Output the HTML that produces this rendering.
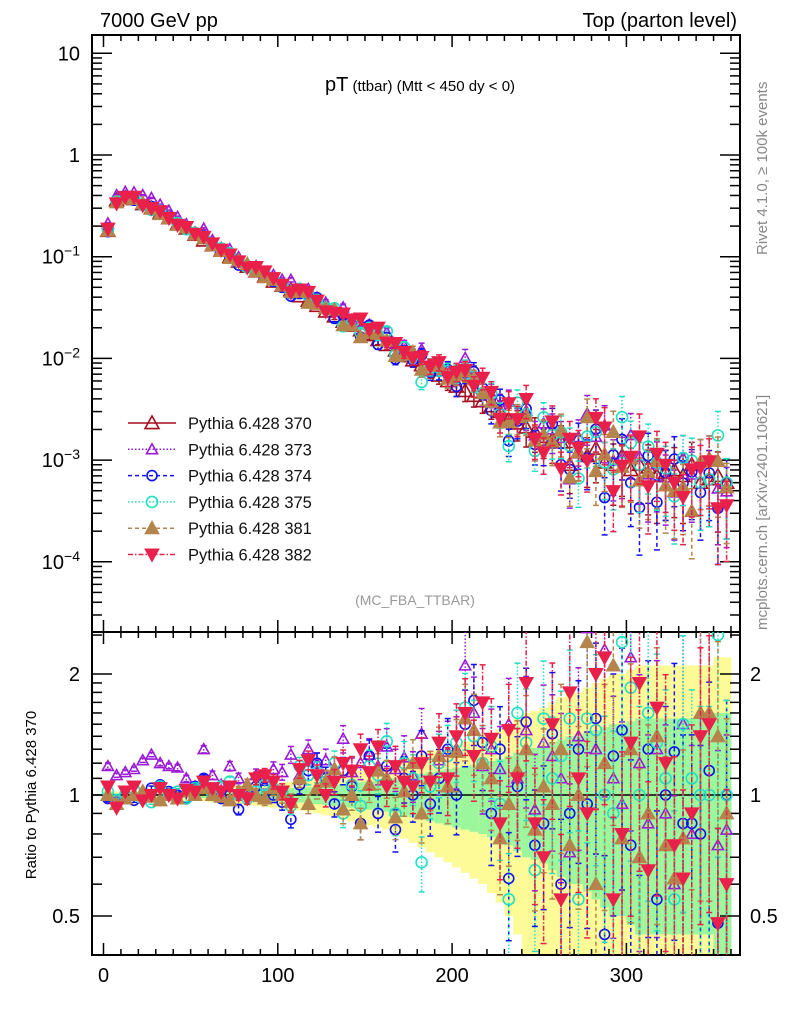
<!DOCTYPE html>
<html><head><meta charset="utf-8"><style>
html,body{margin:0;padding:0;background:#fff;width:786px;height:1024px;overflow:hidden;}
svg{display:block;font-family:"Liberation Sans",sans-serif;}
</style></head><body>
<svg id="chart" width="786" height="1024" viewBox="0 0 786 1024" xmlns="http://www.w3.org/2000/svg">
<defs>
<clipPath id="clipMain"><rect x="92" y="35" width="648" height="597"/></clipPath>
<clipPath id="clipRatio"><rect x="92" y="632" width="648" height="323"/></clipPath>
</defs>
<text x="100" y="27" font-size="20">7000 GeV pp</text>
<text x="737" y="27" font-size="20" text-anchor="end">Top (parton level)</text>
<text x="420" y="91" text-anchor="middle" font-size="15"><tspan font-size="20">pT</tspan> (ttbar) (Mtt &lt; 450 dy &lt; 0)</text>
<text x="415" y="605" text-anchor="middle" font-size="14" fill="#999">(MC_FBA_TTBAR)</text>
<text transform="translate(767,255) rotate(-90)" font-size="15" fill="#888">Rivet 4.1.0, ≥ 100k events</text>
<text transform="translate(767,630) rotate(-90)" font-size="15" fill="#888">mcplots.cern.ch [arXiv:2401.10621]</text>
<text transform="translate(36,795) rotate(-90)" font-size="15" text-anchor="middle">Ratio to Pythia 6.428 370</text>
<g id="bands" clip-path="url(#clipRatio)"></g>
<g id="axes"></g>
<g id="mainMarks" clip-path="url(#clipMain)"></g>
<g id="ratioMarks" clip-path="url(#clipRatio)"></g>
<g id="legend"></g>
</svg>
<script>
const binCenters = [];
for (let i = 0; i < 72; i++) binCenters.push(2.5 + 5 * i);
const ref370 = [0.18,0.36,0.38,0.37,0.33,0.30,0.27,0.24,0.21,0.19,0.165,0.145,
0.13,0.115,0.10,0.09,0.08,0.072,0.064,0.057,0.052,0.047,0.041,0.037,
0.033,0.029,0.026,0.023,0.021,0.019,0.017,0.0152,0.0136,0.012,0.0107,0.0096,
0.0086,0.0077,0.0068,0.006,0.0053,0.0048,0.0043,0.0038,0.0034,0.003,0.0025,0.0023,
0.0021,0.0019,0.0017,0.0016,0.0015,0.0009,0.0012,0.0011,0.0013,0.00095,0.0009,0.0011,
0.0008,0.0009,0.00085,0.0007,0.00075,0.0008,0.0007,0.0009,0.0006,0.00065,0.0007,0.0006];
const ratio373 = [1.18,1.12,1.14,1.16,1.22,1.26,1.2,1.18,1.17,1.1,1.05,1.3,
1.12,1.06,1.18,1.1,1.04,1.12,1.06,1.16,1.14,1.26,1.12,1.3,
1.2,1.22,1.16,1.38,1.14,1.2,1.26,1.18,1.32,1.16,1.24,1.12,
1.42,1.1,1.22,1.28,1.3,2.1,1.6,1.18,1.3,1.16,1.5,1.1,
1.45,0.92,1.35,1.25,1.1,0.72,1.4,2.6,1.3,2.3,1.1,0.95,
2.2,1.2,0.85,1.3,0.9,0.6,1.5,0.8,1.6,1.6,0.75,0.82];
const ratio374 = [0.98,0.96,1.0,0.97,0.99,1.04,1.06,1.02,1.0,0.98,1.05,1.1,
1.02,0.98,1.0,0.92,1.0,1.05,1.1,1.0,0.96,0.87,1.06,1.15,
1.2,1.1,0.95,1.15,1.05,0.85,1.25,0.9,1.18,0.82,1.1,1.0,
1.25,0.95,1.1,1.3,1.0,1.5,1.72,1.35,0.9,1.3,0.62,1.05,
1.52,0.75,0.85,1.42,0.6,0.9,1.3,0.95,1.55,0.45,1.25,1.45,
0.75,0.38,1.3,0.55,1.0,1.28,0.85,0.85,0.8,1.15,0.48,1.0];
const ratio375 = [1.02,0.97,1.0,1.03,0.98,0.96,1.05,1.0,1.02,0.98,1.04,1.06,
1.0,1.05,1.08,1.0,0.98,1.02,1.06,1.04,1.02,0.94,1.18,1.12,
1.14,1.08,1.2,0.9,1.06,0.94,1.18,1.12,1.36,0.9,1.2,1.1,
0.68,1.05,1.2,1.25,1.35,1.65,1.4,1.2,1.32,0.95,0.55,1.6,
1.35,0.65,1.55,1.1,1.25,1.55,0.55,1.55,1.45,1.0,0.9,2.4,
1.85,1.0,1.6,1.35,1.1,0.55,1.5,1.1,1.0,1.0,2.5,1.0];
const ratio381 = [1.0,0.95,0.98,1.0,1.02,0.99,0.97,1.0,0.98,1.02,1.0,1.04,
1.0,0.99,0.97,1.02,1.06,1.0,0.98,1.04,1.0,0.96,1.1,0.95,
1.04,1.08,1.16,0.92,1.0,0.85,1.06,1.15,1.1,0.88,1.02,1.2,
0.9,1.1,1.25,1.05,1.28,1.55,1.45,1.2,1.1,0.78,0.95,1.15,
1.3,0.82,1.05,0.95,1.3,0.75,1.0,2.4,0.6,1.2,2.1,0.78,
1.3,0.7,0.9,1.4,0.75,0.62,0.78,0.35,1.6,1.6,1.4,0.9];
const ratio382 = [1.05,0.93,1.02,1.05,0.97,1.0,1.04,1.0,0.98,1.03,1.02,1.08,
1.04,1.02,1.05,1.0,0.98,1.1,1.12,1.08,1.02,0.95,1.16,1.22,
1.12,1.0,1.08,1.2,1.15,1.3,1.14,1.32,1.05,1.18,1.08,1.05,
1.2,1.08,1.35,1.1,1.4,1.6,1.25,1.7,1.38,0.85,1.45,1.1,
1.9,0.85,0.7,1.5,0.55,1.8,1.1,0.9,2.0,2.2,0.55,0.8,
1.35,1.9,0.65,1.65,1.2,0.75,0.62,0.9,1.4,1.5,0.48,0.6];
const relErr = [0.03,0.02,0.02,0.02,0.02,0.02,0.025,0.025,0.03,0.03,0.03,0.035,
0.04,0.04,0.045,0.05,0.055,0.06,0.065,0.07,0.075,0.08,0.085,0.09,
0.1,0.11,0.12,0.13,0.14,0.15,0.16,0.17,0.18,0.2,0.22,0.24,
0.26,0.28,0.3,0.32,0.34,0.36,0.38,0.4,0.43,0.46,0.5,0.55,
0.6,0.62,0.65,0.7,0.75,0.8,0.8,0.85,0.9,0.95,1.0,1.0,
1.05,1.1,1.1,1.1,1.1,1.1,1.1,1.1,1.1,1.1,1.2,1.2];
const xTicks = [0,100,200,300];
const mainTickExps = [1,0,-1,-2,-3,-4];
const ratioTicks = [0.5,1,2];
const legendLabels = ["Pythia 6.428 370","Pythia 6.428 373","Pythia 6.428 374","Pythia 6.428 375","Pythia 6.428 381","Pythia 6.428 382"];

const NS = "http://www.w3.org/2000/svg";
const X0 = 92, X1 = 740, MT = 35, MB = 632, RB = 955;
function xs(v){ return 103.5 + v * 1.743; }
function ym(v){ return 155 - 101.7 * Math.log10(v); }
function yr(r){ return 795 - 121 * Math.log2(r); }
function mk(tag, attrs, parent){
  const e = document.createElementNS(NS, tag);
  for (const k in attrs) e.setAttribute(k, attrs[k]);
  parent.appendChild(e);
  return e;
}
const axes = document.getElementById('axes');
const bands = document.getElementById('bands');
const mainG = document.getElementById('mainMarks');
const ratioG = document.getElementById('ratioMarks');
const legG = document.getElementById('legend');

binCenters.forEach((c, i) => {
  const x0 = xs(c - 2.5), w = xs(c + 2.5) - x0;
  const e = relErr[i];
  const yu = yr(1 + e), yl = yr(Math.max(1 - e, 0.05));
  const yb = mk('rect', {x:x0, y:yu, width:w + 0.5, height:yl - yu, fill:'#fdfb98'}, bands);
  
  
  const g = e * 0.5;
  const gu = yr(1 + g), gl = yr(Math.max(1 - g, 0.05));
  const gb = mk('rect', {x:x0, y:gu, width:w + 0.5, height:gl - gu, fill:'#9cf79c'}, bands);
  
  
});

const f1 = mk('rect', {x:X0, y:MT, width:X1-X0, height:MB-MT, fill:'none', stroke:'#000', 'stroke-width':2}, axes);


const f2 = mk('rect', {x:X0, y:MB, width:X1-X0, height:RB-MB, fill:'none', stroke:'#000', 'stroke-width':2}, axes);


const one = mk('line', {x1:X0, x2:X1, y1:yr(1), y2:yr(1), stroke:'#000', 'stroke-width':1.5}, axes);



for (let v = 0; v <= 360; v += 10) {
  const major = v % 100 === 0;
  const len = major ? 12 : 6;
  const x = xs(v);
  [MB, RB].forEach(yb => {
    mk('line', {x1:x, x2:x, y1:yb, y2:yb - len, stroke:'#000', 'stroke-width':1.5}, axes);
  });
  mk('line', {x1:x, x2:x, y1:MT, y2:MT + len, stroke:'#000', 'stroke-width':1.5}, axes);
  mk('line', {x1:x, x2:x, y1:MB, y2:MB + len, stroke:'#000', 'stroke-width':1.5}, axes);
}
xTicks.forEach(v => {
  const t = mk('text', {x:xs(v), y:982, 'font-size':20, 'text-anchor':'middle'}, axes);
  t.textContent = v;
  
  
});
for (let e = -5; e <= 1; e++) {
  for (let m = 1; m <= 9; m++) {
    const y = ym(m * Math.pow(10, e));
    if (y < MT || y > MB) continue;
    const len = m === 1 ? 20 : 10;
    mk('line', {x1:X0, x2:X0 + len, y1:y, y2:y, stroke:'#000', 'stroke-width':1.5}, axes);
    mk('line', {x1:X1, x2:X1 - len, y1:y, y2:y, stroke:'#000', 'stroke-width':1.5}, axes);
  }
}
mainTickExps.forEach(e => {
  const t = mk('text', {x:80, y:ym(Math.pow(10, e)) + 7, 'font-size':20, 'text-anchor':'end'}, axes);
  
  
  if (e === 1) t.textContent = '10';
  else if (e === 0) t.textContent = '1';
  else {
    t.textContent = '10';
    const s = document.createElementNS(NS, 'tspan');
    s.setAttribute('dy', '-8'); s.setAttribute('font-size', '14');
    s.textContent = '−' + (-e);
    t.appendChild(s);
  }
});
const rMinor = [0.4,0.5,0.6,0.7,0.8,0.9,1,1.1,1.2,1.3,1.4,1.5,1.6,1.7,1.8,1.9,2,2.5];
rMinor.forEach(r => {
  const y = yr(r);
  const len = (r === 0.5 || r === 1 || r === 2) ? 20 : 10;
  mk('line', {x1:X0, x2:X0 + len, y1:y, y2:y, stroke:'#000', 'stroke-width':1.5}, axes);
  mk('line', {x1:X1, x2:X1 - len, y1:y, y2:y, stroke:'#000', 'stroke-width':1.5}, axes);
});
ratioTicks.forEach(r => {
  const t = mk('text', {x:80, y:yr(r) + 7, 'font-size':20, 'text-anchor':'end'}, axes);
  t.textContent = r;
  
  
  const t2 = mk('text', {x:750, y:yr(r) + 7, 'font-size':20}, axes);
  t2.textContent = r;
  
  
});

const series = [
  {ratios:null, color:'#a50f1e', dash:'', shape:'tri', fill:false, size:7},
  {ratios:ratio373, color:'#9a1ad8', dash:'1.5 2', shape:'tri', fill:false, size:5.5},
  {ratios:ratio374, color:'#1010f0', dash:'4 3', shape:'circ', fill:false, size:5},
  {ratios:ratio375, color:'#22e0c4', dash:'1.5 2', shape:'circ', fill:false, size:5.5},
  {ratios:ratio381, color:'#b5844c', dash:'4 3', shape:'tri', fill:true, size:6.5},
  {ratios:ratio382, color:'#e8204a', dash:'5 2 1.5 2', shape:'dtri', fill:true, size:6.5}
];
function marker(parent, x, y, s){
  const sz = s.size;
  let el;
  if (s.shape === 'circ') el = mk('circle', {cx:x, cy:y, r:sz}, parent);
  else if (s.shape === 'tri') el = mk('polygon', {points:`${x},${y-sz} ${x-sz},${y+sz*0.8} ${x+sz},${y+sz*0.8}`}, parent);
  else el = mk('polygon', {points:`${x},${y+sz} ${x-sz},${y-sz*0.8} ${x+sz},${y-sz*0.8}`}, parent);
  el.setAttribute('fill', s.fill ? s.color : 'none');
  el.setAttribute('stroke', s.color);
  el.setAttribute('stroke-width', 1.6);
  return el;
}
function errbar(parent, x, ya, yb, s){
  const l = mk('line', {x1:x, x2:x, y1:ya, y2:yb, stroke:s.color, 'stroke-width':1.5}, parent);
  if (s.dash) l.setAttribute('stroke-dasharray', s.dash);
  mk('line', {x1:x-3, x2:x+3, y1:ya, y2:ya, stroke:s.color, 'stroke-width':1.5}, parent);
  mk('line', {x1:x-3, x2:x+3, y1:yb, y2:yb, stroke:s.color, 'stroke-width':1.5}, parent);
}
series.forEach((s, si) => {
  const gm = mk('g', {}, mainG);
  
  
  const gr = mk('g', {}, ratioG);
  
  
  binCenters.forEach((c, i) => {
    const r = s.ratios ? s.ratios[i] : 1;
    const v = ref370[i] * r;
    const e = relErr[i] * 0.6;
    const x = xs(c);
    errbar(gm, x, ym(v * (1 + e)), ym(Math.max(v * (1 - e), 1e-6)), s);
    const m = marker(gm, x, ym(v), s);
    
    
    if (s.ratios) {
      errbar(gr, x, yr(r * (1 + e)), yr(Math.max(r * (1 - e), 0.05)), s);
      const m2 = marker(gr, x, yr(r), s);
      
      
    }
  });
});

legendLabels.forEach((lab, i) => {
  const s = series[i];
  const y = 423 + i * 26.3;
  const g = mk('g', {}, legG);
  
  
  const l = mk('line', {x1:128, x2:176, y1:y, y2:y, stroke:s.color, 'stroke-width':1.5}, g);
  if (s.dash) l.setAttribute('stroke-dasharray', s.dash);
  marker(g, 152, y, s);
  const t = mk('text', {x:188, y:y + 6, 'font-size':16.5, fill:'#111'}, g);
  t.textContent = lab;
});
</script>
</body></html>
